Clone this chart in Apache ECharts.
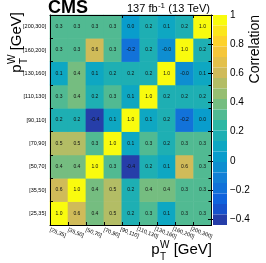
<!DOCTYPE html>
<html><head><meta charset="utf-8">
<script src="https://cdn.jsdelivr.net/npm/echarts@6/dist/echarts.min.js"></script>
<style>html,body{margin:0;padding:0;background:#fff}#c{width:266px;height:263px}</style>
</head><body><div id="c"></div>
<script>
// pT^W bins (used for both axes)
const bins = ['[25,35]','[35,50]','[50,70]','[70,90]','[90,110]','[110,130]','[130,160]','[160,200]','[200,300]'];
// correlation rows (y bin), values per x bin in the order of `bins`
const row_25_35   = [1.0, 0.6, 0.4, 0.5, 0.2, 0.3, 0.1, 0.3, 0.3];
const row_35_50   = [0.6, 1.0, 0.4, 0.5, 0.2, 0.4, 0.4, 0.3, 0.3];
const row_50_70   = [0.4, 0.4, 1.0, 0.3, -0.4, 0.2, 0.1, 0.6, 0.3];
const row_70_90   = [0.5, 0.5, 0.3, 1.0, 0.1, 0.3, 0.2, 0.3, 0.3];
const row_90_110  = [0.2, 0.2, -0.4, 0.1, 1.0, 0.1, 0.2, -0.2, 0.02];
const row_110_130 = [0.3, 0.4, 0.2, 0.3, 0.1, 1.0, 0.2, 0.2, 0.2];
const row_130_160 = [0.1, 0.4, 0.1, 0.2, 0.2, 0.2, 1.0, -0.03, 0.1];
const row_160_200 = [0.3, 0.3, 0.6, 0.3, -0.2, 0.2, -0.03, 1.0, 0.2];
const row_200_300 = [0.3, 0.3, 0.3, 0.3, 0.02, 0.2, 0.1, 0.2, 1.0];
const rows = [row_25_35, row_35_50, row_50_70, row_70_90, row_90_110, row_110_130, row_130_160, row_160_200, row_200_300];
// colour scale
const zMin = -0.44, zMax = 1.0, nContours = 20;
const zTicks = [-0.4, -0.2, 0, 0.2, 0.4, 0.6, 0.8, 1];

// ROOT kBird palette
const birdR = [0.2082, 0.0592, 0.0780, 0.0232, 0.1802, 0.5301, 0.8186, 0.9956, 0.9764];
const birdG = [0.1664, 0.3599, 0.5041, 0.6419, 0.7178, 0.7492, 0.7328, 0.7862, 0.9832];
const birdB = [0.5293, 0.8684, 0.8385, 0.7914, 0.6425, 0.4662, 0.3499, 0.1968, 0.0539];
function bird(t){
  t = Math.max(0, Math.min(1, t));
  const s = t * 8, i = Math.min(7, Math.floor(s)), f = s - i;
  const c = a => Math.round(255 * (a[i] + (a[i+1]-a[i]) * f));
  return 'rgb(' + c(birdR) + ',' + c(birdG) + ',' + c(birdB) + ')';
}
const w = (zMax - zMin) / nContours;
const pieces = [];
for (let i = 0; i < nContours; i++) {
  pieces.push({min: zMin + i*w, max: zMin + (i+1)*w + (i === nContours-1 ? 0.001 : 0), color: bird((i + 0.99) / nContours)});
}

const data = [];
rows.forEach((r, yi) => r.forEach((v, xi) => data.push([xi, yi, v])));

const FF = 'Liberation Sans';
const ctx = document.createElement('canvas').getContext('2d');
function tw(t, font){ ctx.font = font; return ctx.measureText(t).width; }

// builds a "p_T^W [GeV]" text group, local origin at baseline start
function ptTitle(size){
  const big = size + 'px "' + FF + '"', small = Math.round(size*0.65) + 'px "' + FF + '"';
  const wp = tw('p', big), wsup = tw('W', small), wrest = tw(' [GeV]', big);
  const els = [
    {type:'text', style:{text:'p', x:0, y:0, font:big, fill:'#000', verticalAlign:'bottom'}},
    {type:'text', style:{text:'W', x:wp+0.5, y:-size*0.42, font:small, fill:'#000', verticalAlign:'bottom'}},
    {type:'text', style:{text:'T', x:wp+0.5, y:size*0.32, font:small, fill:'#000', verticalAlign:'bottom'}},
    {type:'text', style:{text:' [GeV]', x:wp+wsup+0.5, y:0, font:big, fill:'#000', verticalAlign:'bottom'}}
  ];
  return {els, width: wp + wsup + 0.5 + wrest};
}
const xt = ptTitle(15), yt = ptTitle(15);
const lumiBig = '11px "' + FF + '"', lumiSm = '8px "' + FF + '"';
const l1 = tw('137 fb', lumiBig), l2 = tw('-1', lumiSm);
const corrFont = '14px "' + FF + '"';
const corrW = tw('Correlation', corrFont);

const gl = 50, gt = 15, gw = 161.5, gh = 210;
const barH = gh * (zMax - zTicks[0]) / (zMax - zMin);

const catAxisCommon = {
  type:'category', data: bins, z: 10,
  axisLine:{show:true, lineStyle:{color:'#000', width:1}},
  axisTick:{show:true, inside:true, length:3, alignWithLabel:false, lineStyle:{color:'#000'}},
  splitLine:{show:false}
};

const chart = echarts.init(document.getElementById('c'), null, {renderer:'canvas'});
chart.setOption({
  animation:false,
  grid:[
    {left:gl, top:gt, width:gw, height:gh, containLabel:false},
    {left:213, top:gt, width:14, height:barH, containLabel:false}
  ],
  xAxis:[
    Object.assign({}, catAxisCommon, {gridIndex:0, position:'bottom',
      axisLabel:{fontSize:5.5, fontFamily:FF, color:'#000', rotate:-22, align:'center', verticalAlign:'top', margin:5, interval:0}}),
    Object.assign({}, catAxisCommon, {gridIndex:0, position:'top', axisLabel:{show:false}}),
    {type:'value', gridIndex:1, show:false, min:0, max:1}
  ],
  yAxis:[
    Object.assign({}, catAxisCommon, {gridIndex:0, position:'left',
      axisLabel:{fontSize:5.5, fontFamily:FF, color:'#000', margin:4, interval:0}}),
    Object.assign({}, catAxisCommon, {gridIndex:0, position:'right', axisLabel:{show:false}}),
    {type:'value', gridIndex:1, position:'right', min:zTicks[0], max:1, interval:0.2, z:10,
      axisLine:{show:false}, splitLine:{show:false},
      axisTick:{show:true, inside:true, length:5, lineStyle:{color:'#000'}},
      axisLabel:{fontSize:10, fontFamily:FF, color:'#000', margin:3,
        formatter: v => String(Number(v.toFixed(1))).replace('-', '\u2212')}}
  ],
  visualMap:{
    type:'piecewise', pieces: pieces, dimension:2, seriesIndex:0,
    orient:'vertical', left:213, top:gt, padding:0,
    itemWidth:14, itemHeight: gh / nContours, itemGap:0, itemSymbol:'rect',
    showLabel:false, selectedMode:false, hoverLink:false, textGap:0,
    textStyle:{fontSize:1}
  },
  series:[{
    type:'heatmap', xAxisIndex:0, yAxisIndex:0, data: data,
    label:{show:true, fontSize:5, fontFamily:FF, color:'#111',
      formatter: p => p.value[2].toFixed(1)},
    emphasis:{disabled:true}
  }],
  graphic:[
    {type:'text', left:48, top:-1, style:{text:'CMS', font:'bold 18px "' + FF + '"', fill:'#000'}},
    {type:'group', x:127, y:14, children:[
      {type:'text', style:{text:'137 fb', x:0, y:0, font:lumiBig, fill:'#000', verticalAlign:'bottom'}},
      {type:'text', style:{text:'-1', x:l1+0.3, y:-4, font:lumiSm, fill:'#000', verticalAlign:'bottom'}},
      {type:'text', style:{text:' (13 TeV)', x:l1+l2+0.6, y:0, font:lumiBig, fill:'#000', verticalAlign:'bottom'}}
    ]},
    {type:'group', x:212 - xt.width, y:257, children: xt.els},
    {type:'group', x:24, y:12 + yt.width, rotation:Math.PI/2, children: yt.els},
    {type:'text', x:262, y:15 + corrW, rotation:Math.PI/2,
      style:{text:'Correlation', x:0, y:0, font:corrFont, fill:'#000', verticalAlign:'bottom'}}
  ]
});
</script>
</body></html>
